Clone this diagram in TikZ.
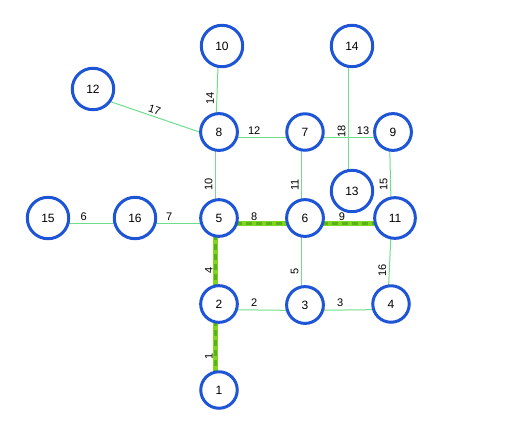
\documentclass[tikz,border=0pt]{standalone}
\usepackage{fontspec}
\setmainfont{Liberation Sans}
\usepackage{xcolor}
\usetikzlibrary{backgrounds}
\definecolor{VertBlue}{RGB}{30,84,214}
\definecolor{EdgeGreen}{RGB}{110,222,140}
\definecolor{PathLime}{RGB}{128,214,30}
\definecolor{PathDash}{RGB}{88,178,28}

\begin{document}
\begin{tikzpicture}[x=1pt, y=-1pt,
      vert/.style={circle, draw=VertBlue, line width=3pt, fill=white,
                   inner sep=9.2pt, font=\fontsize{12}{14}\selectfont},
      edge/.style={draw=EdgeGreen, line width=1pt},
      wt/.style={pos=0.45, inner sep=2.5pt, font=\fontsize{11}{13}\selectfont},
      wth/.style={wt, anchor=south},
      wtv/.style={wt, rotate=90, anchor=south},
      route/.style={draw=PathLime, line width=5pt},
      routedash/.style={draw=PathDash, line width=3pt, dash pattern=on 6pt off 4pt}
    ]
      \useasboundingbox (0,0) rectangle (523,440);
      % vertices, each with its edge point a little left of and below the centre
      \foreach \id/\x/\y in {1/219/390, 2/219/304, 3/305/305, 4/391/304,
                             5/219/218, 6/305/218, 7/305/132, 8/219/132,
                             9/393/132, 10/222/46, 11/395/218, 12/93/89,
                             13/352/191, 14/352/46, 15/48/218, 16/135/218}{
        \node[vert] (n\id) at (\x,\y) {\id};
        \coordinate (e\id) at (\x-3.5,\y+5.5);
      }
      \begin{scope}[on background layer]
        \foreach \a/\b/\w in {2/3/2, 3/4/3, 15/16/6, 16/5/7, 5/6/8, 6/11/9, 8/7/12}
          \path[edge] (e\a) -- node[wth] {\w} (e\b);
        \path[edge] (e7) -- node[wth, pos=0.7] {13} (e9);
        \foreach \a/\b/\w in {1/2/1, 2/5/4, 3/6/5, 5/8/10, 6/7/11, 8/10/14,
                              11/9/15, 4/11/16, 13/14/18}
          \path[edge] (e\a) -- node[wtv] {\w} (e\b);
        \path[edge] (e12) -- node[wt, sloped, above, pos=0.5] {17} (e8);
        % the marked route
        \foreach \a/\b in {1/2, 2/5, 5/6, 6/11}{
          \draw[route] (e\a) -- (e\b);
          \draw[routedash] (e\a) -- (e\b);
        }
      \end{scope}
    \end{tikzpicture}
\end{document}
